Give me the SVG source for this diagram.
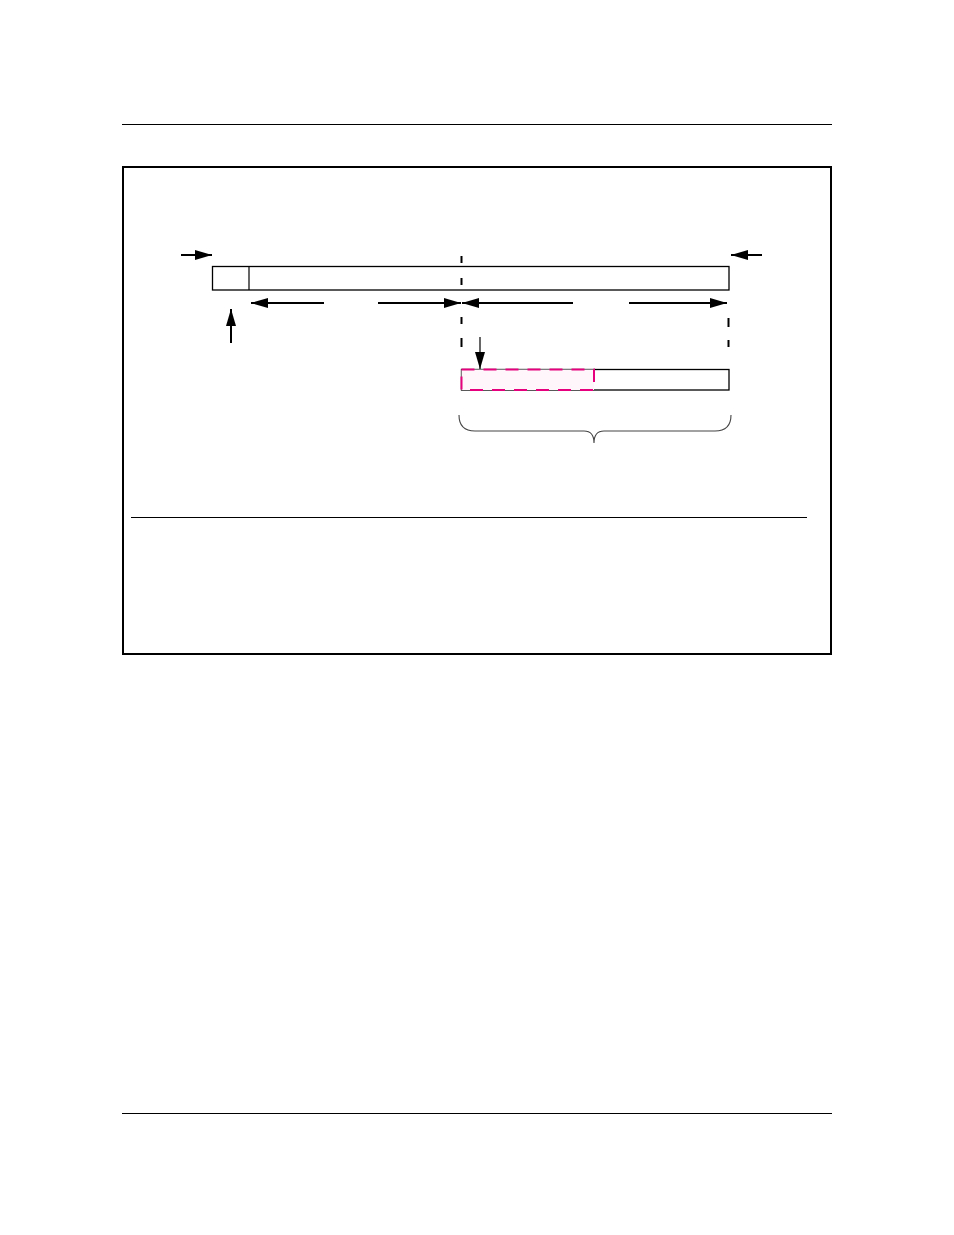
<svg xmlns="http://www.w3.org/2000/svg" width="954" height="1235" viewBox="0 0 954 1235">
<style>
.rule{stroke:#000;stroke-width:1;fill:none}
.box{stroke:#000;stroke-width:1.3;fill:#fff}
.dash{stroke:#000;stroke-width:2;fill:none}
.arr{stroke:#000;stroke-width:2;fill:none}
.thin{stroke:#000;stroke-width:1.2;fill:none}
.mag{stroke:#e6007e;stroke-width:2;fill:#fff6fb;stroke-dasharray:13 9}
.brace{stroke:#444;stroke-width:1.1;fill:none}
</style>
<defs>
<marker id="ah" viewBox="0 0 17 10" refX="17" refY="5" markerWidth="17" markerHeight="10" markerUnits="userSpaceOnUse" orient="auto">
<path d="M0,0 L17,5 L0,10 Z" fill="#000"/>
</marker>
</defs>
<rect width="954" height="1235" fill="#fff"/>
<line class="rule" x1="122" y1="124.5" x2="832" y2="124.5"/>
<line class="rule" x1="122" y1="1113.5" x2="832" y2="1113.5"/>
<rect id="frame" x="123" y="167" width="708" height="487" fill="none" stroke="#000" stroke-width="2"/>
<line class="rule" x1="131" y1="517.5" x2="807" y2="517.5"/>
<g id="topbar">
<rect class="box" x="212.5" y="266.5" width="516.5" height="23.5"/>
<line class="thin" x1="249" y1="266.5" x2="249" y2="290"/>
</g>
<g id="lowerbar">
<rect class="box" x="461.5" y="369.5" width="267.5" height="20.5"/>
<rect class="mag" x="461.5" y="369.5" width="132.5" height="20.5"/>
</g>
<g id="brace">
<path class="brace" d="M459,415 Q459,431 475,431 L584,431 Q594,431 594,443 Q594,431 604,431 L715,431 Q731,431 731,415"/>
</g>
<g id="connectors">
<path class="dash" d="M461.5,256v7M461.5,278v7M461.5,317v7M461.5,338v9"/>
<path class="dash" d="M728.5,318v9M728.5,340v7"/>
<line class="arr" x1="181" y1="255" x2="212" y2="255" marker-end="url(#ah)"/>
<line class="arr" x1="762" y1="255" x2="731" y2="255" marker-end="url(#ah)"/>
<line class="arr" x1="324" y1="303" x2="251" y2="303" marker-end="url(#ah)"/>
<line class="arr" x1="378" y1="303" x2="461" y2="303" marker-end="url(#ah)"/>
<line class="arr" x1="573" y1="303" x2="462" y2="303" marker-end="url(#ah)"/>
<line class="arr" x1="629" y1="303" x2="727" y2="303" marker-end="url(#ah)"/>
<line class="arr" x1="231" y1="343" x2="231" y2="309" marker-end="url(#ah)"/>
<line class="thin" x1="480" y1="337" x2="480" y2="369" marker-end="url(#ah)"/>
</g>
</svg>
